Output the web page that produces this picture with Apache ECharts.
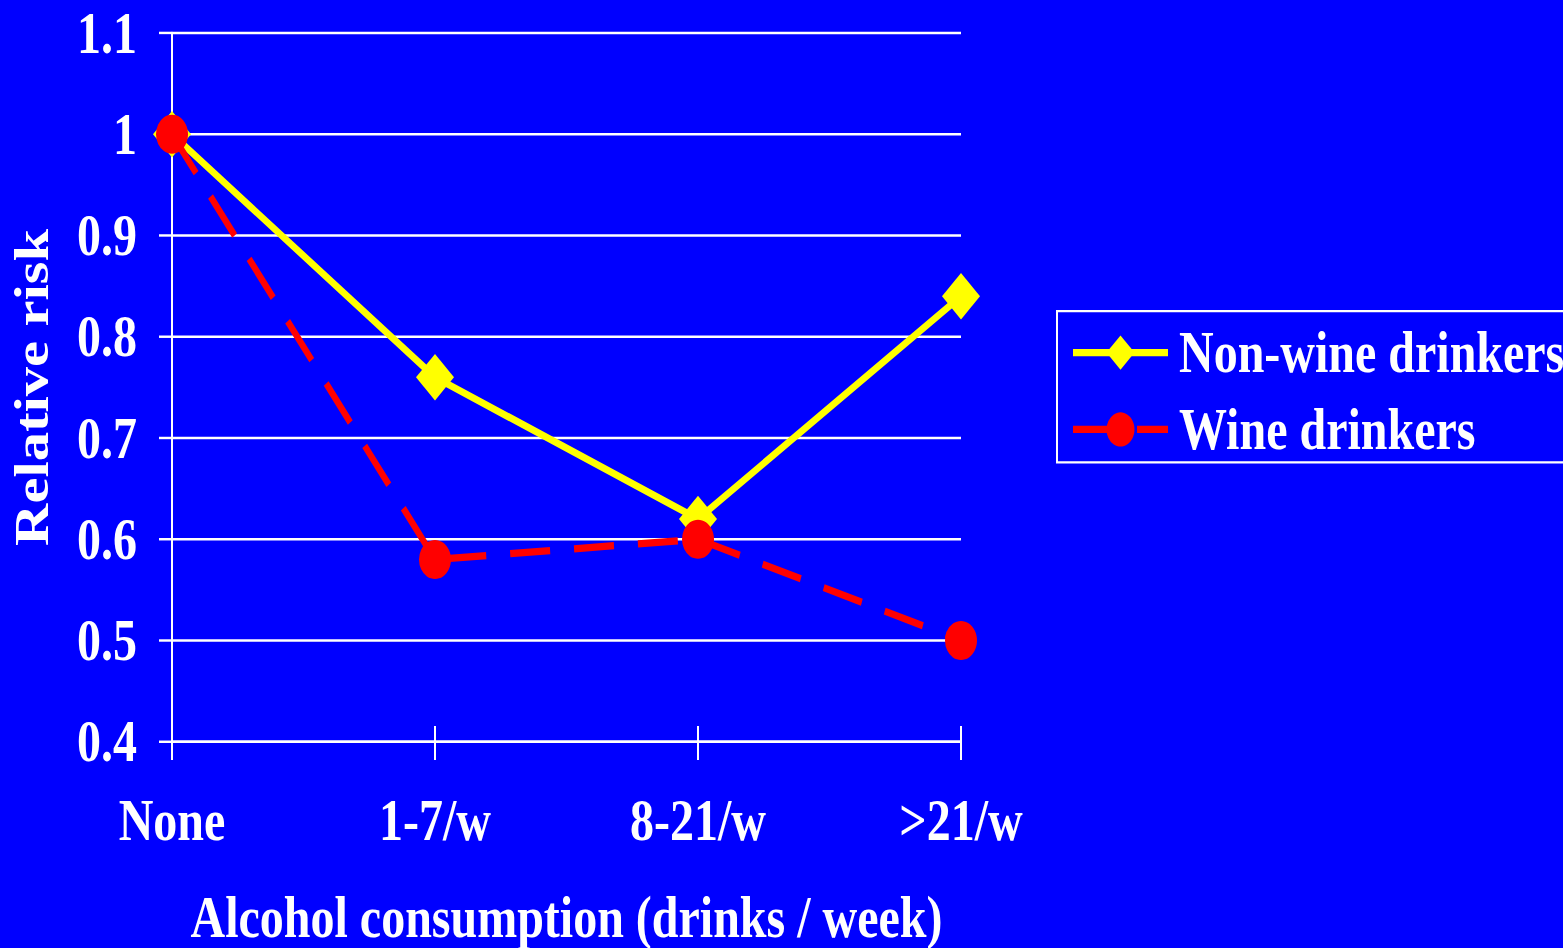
<!DOCTYPE html>
<html>
<head>
<meta charset="utf-8">
<title>Relative risk by alcohol consumption</title>
<script src="https://cdn.jsdelivr.net/npm/echarts@6/dist/echarts.min.js"></script>
<style>
  html { margin: 0; padding: 0; background: #0000FF; overflow: hidden; }
  body { margin: 0; padding: 0; width: 1563px; height: 948px; background: #0000FF; }
  /* slide-style tall lettering: the chart is laid out at 777px height and stretched vertically */
  #chart { width: 1563px; height: 777px; transform: scaleY(1.22); transform-origin: 0 0; }
</style>
</head>
<body>
<div id="chart"></div>
<script>
const categories = ['None', '1-7/w', '8-21/w', '>21/w'];
const nonWineDrinkers = [1.0, 0.76, 0.62, 0.84];
const wineDrinkers = [1.0, 0.58, 0.60, 0.50];
const yTickLabels = ['0.4', '0.5', '0.6', '0.7', '0.8', '0.9', '1', '1.1'];

const FONT = '"Liberation Serif", "Times New Roman", serif';
const WHITE = '#FFFFFF';
const GRID_TOP = 27;
const GRID_BOTTOM = 169;
const CHART_HEIGHT = 777;

const chart = echarts.init(document.getElementById('chart'), null, { renderer: 'svg' });

chart.setOption({
  animation: false,
  backgroundColor: '#0000FF',
  textStyle: { fontFamily: FONT, fontWeight: 'bold', color: WHITE },
  grid: {
    left: 172, right: 602, top: GRID_TOP, bottom: GRID_BOTTOM,
    containLabel: false,
    outerBoundsMode: 'none'
  },
  legend: {
    left: 1057,
    top: 255,
    orient: 'vertical',
    itemWidth: 95,
    itemHeight: 35,
    itemGap: 15,
    padding: [10, 12, 3, 13],
    borderColor: WHITE,
    borderWidth: 2,
    lineStyle: { width: 6 },
    textStyle: {
      fontFamily: FONT, fontWeight: 'bold', fontSize: 48, lineHeight: 48,
      color: WHITE, padding: [0, 0, 0, 6]
    },
    data: ['Non-wine drinkers', 'Wine drinkers']
  },
  xAxis: [
    {
      type: 'category',
      data: categories,
      boundaryGap: false,
      position: 'bottom',
      name: 'Alcohol consumption (drinks / week)',
      nameLocation: 'middle',
      nameGap: 120,
      nameTextStyle: { fontFamily: FONT, fontWeight: 'bold', fontSize: 48, color: WHITE },
      axisLine: { show: true, lineStyle: { color: WHITE, width: 2 } },
      axisTick: { show: true, inside: false, length: 15, lineStyle: { color: WHITE, width: 2 } },
      axisLabel: { show: true, margin: 40, fontFamily: FONT, fontWeight: 'bold', fontSize: 48, color: WHITE },
      splitLine: { show: false }
    },
    {
      // upper half of the crossing category ticks, moved down onto the bottom axis
      type: 'category',
      data: categories,
      boundaryGap: false,
      position: 'top',
      offset: -(CHART_HEIGHT - GRID_TOP - GRID_BOTTOM),
      axisLine: { show: false },
      axisTick: { show: true, inside: false, length: 13, lineStyle: { color: WHITE, width: 2 } },
      axisLabel: { show: false },
      splitLine: { show: false }
    }
  ],
  yAxis: {
    type: 'value',
    min: 0.4,
    max: 1.1,
    interval: 0.1,
    name: 'Relative risk',
    nameLocation: 'middle',
    nameGap: 116,
    nameRotate: 90,
    nameTextStyle: { fontFamily: FONT, fontWeight: 'bold', fontSize: 48, color: WHITE },
    axisLine: { show: true, lineStyle: { color: WHITE, width: 2 } },
    axisTick: { show: true, inside: false, length: 13, lineStyle: { color: WHITE, width: 2 } },
    axisLabel: {
      margin: 35,
      fontFamily: FONT, fontWeight: 'bold', fontSize: 48, color: WHITE,
      formatter: v => yTickLabels[Math.round((v - 0.4) * 10)]
    },
    splitLine: { show: true, lineStyle: { color: WHITE, width: 2 } }
  },
  series: [
    {
      name: 'Non-wine drinkers',
      type: 'line',
      xAxisIndex: 0,
      data: nonWineDrinkers,
      symbol: 'diamond',
      symbolSize: [38, 38],
      lineStyle: { color: '#FFFF00', width: 6 },
      itemStyle: { color: '#FFFF00' },
      z: 2
    },
    {
      name: 'Wine drinkers',
      type: 'line',
      xAxisIndex: 0,
      data: wineDrinkers,
      symbol: 'circle',
      symbolSize: [32, 32],
      lineStyle: { color: '#FF0000', width: 6, type: [40, 24] },
      itemStyle: { color: '#FF0000' },
      z: 3
    }
  ]
});
</script>
</body>
</html>
